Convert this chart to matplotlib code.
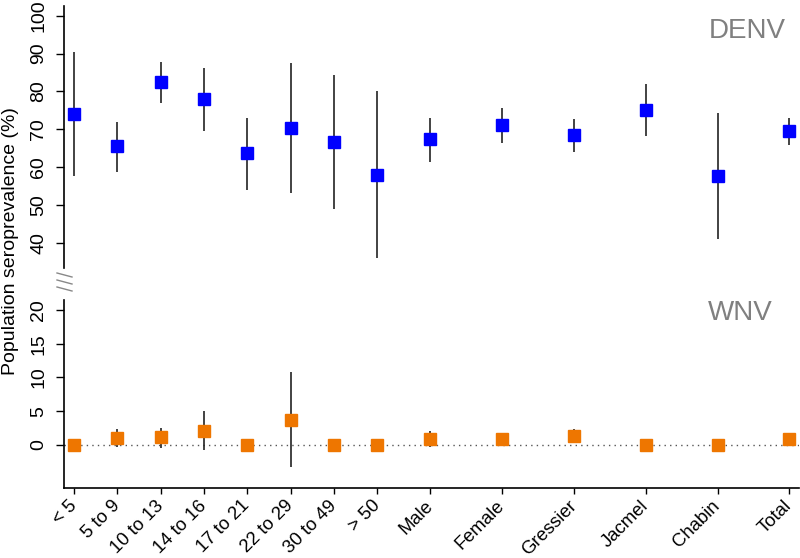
import matplotlib
matplotlib.use("Agg")
import matplotlib.pyplot as plt
from matplotlib.lines import Line2D

categories = ["< 5", "5 to 9", "10 to 13", "14 to 16", "17 to 21", "22 to 29",
              "30 to 49", "> 50", "Male", "Female", "Gressier", "Jacmel",
              "Chabin", "Total"]
positions = [1, 2, 3, 4, 5, 6, 7, 8, 9.22, 10.88, 12.54, 14.19, 15.85, 17.5]

denv = [74.1, 65.5, 82.4, 77.9, 63.6, 70.4, 66.7, 58.0, 67.3, 71.0, 68.5, 75.0, 57.7, 69.5]
denv_lo = [57.7, 58.8, 76.9, 69.6, 53.9, 53.2, 49.0, 35.9, 61.4, 66.3, 64.1, 68.1, 41.1, 65.8]
denv_hi = [90.4, 72.0, 87.7, 86.2, 73.1, 87.6, 84.4, 80.1, 73.0, 75.6, 72.8, 82.1, 74.2, 73.1]

wnv = [0.0, 1.0, 1.15, 2.1, 0.0, 3.7, 0.0, 0.0, 0.9, 0.85, 1.35, 0.0, 0.0, 0.9]
wnv_lo = [0.0, -0.35, -0.4, -0.8, 0.0, -3.35, 0.0, 0.0, -0.25, 0.0, 0.35, 0.0, 0.0, 0.3]
wnv_hi = [0.0, 2.35, 2.55, 5.0, 0.0, 10.85, 0.0, 0.0, 2.1, 1.7, 2.35, 0.0, 0.0, 1.5]

blue = "#0000FF"
orange = "#EE7600"
font = ["Liberation Sans", "DejaVu Sans"]
plt.rcParams["font.family"] = font

fig = plt.figure(figsize=(8, 5.58), dpi=100)
W, H = 800.0, 558.0
left_px, right_px = 64, 799
ax1 = fig.add_axes([left_px / W, 1 - 268 / H, (right_px - left_px) / W, (268 - 6) / H])
ax2 = fig.add_axes([left_px / W, 1 - 488 / H, (right_px - left_px) / W, (488 - 300) / H])

xlim = (0.77, 17.73)

# Upper panel (DENV)
for x, lo, hi in zip(positions, denv_lo, denv_hi):
    ax1.vlines(x, lo, hi, color="#222222", lw=1.2, zorder=2)
ax1.plot(positions, denv, ls="none", marker="s", ms=8.5, color=blue, zorder=3)
ax1.set_xlim(*xlim)
ax1.set_ylim(33.3, 102.6)
ax1.set_yticks([40, 50, 60, 70, 80, 90, 100])
ax1.set_xticks([])
for s in ["top", "right", "bottom"]:
    ax1.spines[s].set_visible(False)
ax1.spines["left"].set_linewidth(1.2)
ax1.tick_params(axis="y", labelsize=14, length=6, width=1.0, rotation=90, pad=6)
for lab in ax1.get_yticklabels():
    lab.set_verticalalignment("center")
ax1.text(0.93, 0.905, "DENV", transform=ax1.transAxes, fontsize=20, color="#808080",
         ha="center", va="center")

# Lower panel (WNV)
ax2.axhline(0, color="#555555", lw=1.0, ls=(0, (1, 3)), zorder=1)
for x, lo, hi in zip(positions, wnv_lo, wnv_hi):
    if hi > lo:
        ax2.vlines(x, lo, hi, color="#222222", lw=1.2, zorder=2)
ax2.plot(positions, wnv, ls="none", marker="s", ms=8.5, color=orange, zorder=3)
ax2.set_xlim(*xlim)
ax2.set_ylim(-6.4, 21.5)
ax2.set_yticks([0, 5, 10, 15, 20])
ax2.set_xticks(positions)
ax2.set_xticklabels(categories, rotation=45, ha="right", va="center",
                    rotation_mode="anchor", fontsize=13.3)
for s in ["top", "right"]:
    ax2.spines[s].set_visible(False)
ax2.spines["left"].set_linewidth(1.2)
ax2.spines["bottom"].set_linewidth(1.2)
ax2.tick_params(axis="y", labelsize=14, length=6, width=1.0, rotation=90, pad=6)
ax2.tick_params(axis="x", length=4, width=1.0, pad=7)
for lab in ax2.get_yticklabels():
    lab.set_verticalalignment("center")
ax2.text(0.92, 0.93, "WNV", transform=ax2.transAxes, fontsize=20, color="#808080",
         ha="center", va="center")

# Break marks
for yp in (275, 282, 289):
    fig.add_artist(Line2D([57 / W, 72 / W], [1 - (yp - 2) / H, 1 - (yp + 2) / H],
                          transform=fig.transFigure, color="#888888", lw=1.0))

fig.text(11 / W, 1 - 241 / H, "Population seroprevalence (%)", rotation=90, fontsize=14,
         ha="center", va="center")

fig.savefig("out.png", dpi=100)
